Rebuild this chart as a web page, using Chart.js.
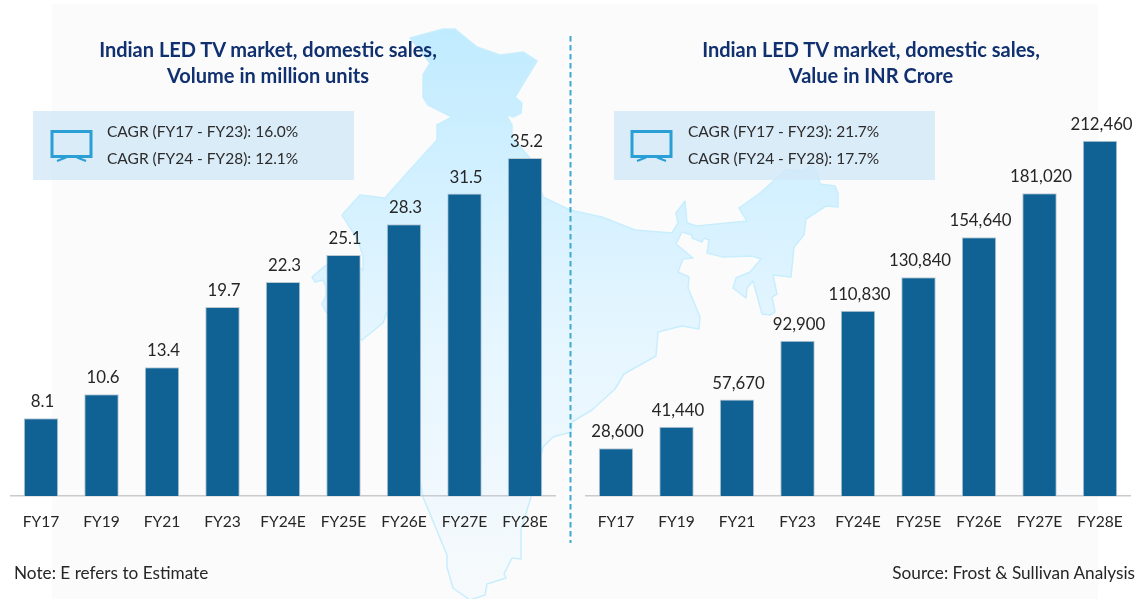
<!DOCTYPE html>
<html><head><meta charset="utf-8">
<script src="https://cdn.jsdelivr.net/npm/chart.js@4"></script>
<style>
html,body{margin:0;padding:0;background:#fff;overflow:hidden}
#stage{position:relative;width:1136px;height:599px;font-family:Lato,sans-serif;color:#262626;overflow:hidden;filter:blur(.3px)}
#panel{position:absolute;left:52px;top:4px;width:1046px;height:595px;background:#fbfbfc}
#map,#fg{position:absolute;left:0;top:0}
canvas{position:absolute;top:0}
.title{position:absolute;top:36px;text-align:center;font-weight:700;font-size:20px;line-height:26px;color:#10306f;white-space:nowrap}
.box{position:absolute;top:111px;width:321px;height:69px;background:rgba(210,232,247,.78)}
.cagr{position:absolute;font-size:15.5px;line-height:27px;top:118px;white-space:nowrap;color:#2b2b2b}
.note{position:absolute;top:563px;font-size:17.2px;line-height:20px;white-space:nowrap;color:#262626}
</style></head>
<body><div id="stage">
<div id="panel"></div>
<svg id="map" width="1136" height="599" viewBox="0 0 1136 599">
<defs><linearGradient id="g" gradientUnits="userSpaceOnUse" x1="0" y1="28" x2="0" y2="600">
<stop offset="0" stop-color="#c0ebff"/><stop offset=".55" stop-color="#e6f6ff"/><stop offset="1" stop-color="#f7fafc"/></linearGradient></defs>
<polygon fill="url(#g)" stroke="#c8eefd" stroke-width="1.5" stroke-linejoin="round" points="410,38 443,29 455,29 477,47 500,55 523,52 537,61 515,97 522,103 521,113 513,117 506,114 512,125 512,137 530,158 543,197 570,210 602,217 635,230 672,233 678,223 676,213 685,201 687,223 697,226 747,221 739,208 760,193 786,170 803,171 812,165 818,173 820,184 835,186 838,193 838,207 826,206 806,219 804,235 794,247 791,277 773,275 777,294 772,297 775,312 770,315 762,314 753,281 747,288 746,298 733,288 736,278 750,272 761,259 752,256 723,257 707,253 709,240 704,238 702,242 692,238 692,235 682,232 676,244 693,258 683,259 678,272 689,277 688,288 700,317 699,329 682,326 658,332 656,356 624,374 615,389 592,410 572,422 571,432 553,437 543,447 531,497 521,530 521,559 512,558 504,574 506,578 487,584 485,595 470,600 453,588 447,567 447,555 423,497 387,312 383,323 362,340 326,312 322,304 326,296 326,287 323,280 315,282 312,277 325,266 345,258 363,270 363,257 358,240 342,215 360,195 385,198 408,172 437,140 437,125 452,117 428,105 423,97 423,75 430,63"/>
</svg>
<div class="box" style="left:33px"></div>
<div class="box" style="left:614px"></div>
<canvas id="c1" width="568" height="599" style="left:0"></canvas>
<canvas id="c2" width="580" height="599" style="left:570px"></canvas>
<svg id="fg" width="1136" height="599" viewBox="0 0 1136 599">
<line x1="570.5" y1="36" x2="570.5" y2="543" stroke="#3ea9cf" stroke-width="2" stroke-dasharray="5.5 3.5"/>
<g fill="none" stroke="#2a9fd6">
<rect x="52" y="131.5" width="39" height="25" stroke-width="3"/>
<path d="M57 161 L66 157.5 M86 161 L77 157.5" stroke-width="2"/>
<rect x="632" y="131.5" width="39" height="25" stroke-width="3"/>
<path d="M637 161 L646 157.5 M666 161 L657 157.5" stroke-width="2"/>
</g></svg>
<div class="title" style="left:68px;width:400px">Indian LED TV market, domestic sales,<br>Volume in million units</div>
<div class="title" style="left:671px;width:400px">Indian LED TV market, domestic sales,<br>Value in INR Crore</div>
<div class="cagr" style="left:107px">CAGR (FY17 - FY23): 16.0%<br>CAGR (FY24 - FY28): 12.1%</div>
<div class="cagr" style="left:688px">CAGR (FY17 - FY23): 21.7%<br>CAGR (FY24 - FY28): 17.7%</div>
<div class="note" style="left:14px">Note: E refers to Estimate</div>
<div class="note" style="right:1px">Source: Frost &amp; Sullivan Analysis</div>
</div>
<script>
const categories = ["FY17","FY19","FY21","FY23","FY24E","FY25E","FY26E","FY27E","FY28E"];
const volumeMillionUnits = [8.1,10.6,13.4,19.7,22.3,25.1,28.3,31.5,35.2];
const valueInrCrore = [28600,41440,57670,92900,110830,130840,154640,181020,212460];

const barLabels = {
  id:'barLabels',
  afterDatasetsDraw(chart,args,opts){
    const ctx = chart.ctx, ds = chart.data.datasets[0];
    ctx.save();
    ctx.font = '16.8px Lato, sans-serif';
    ctx.fillStyle = '#262626';
    ctx.textAlign = 'center';
    ctx.textBaseline = 'alphabetic';
    chart.getDatasetMeta(0).data.forEach((bar,i)=>{
      ctx.fillText(opts.format(ds.data[i]), bar.x+1.5, bar.y-11);
    });
    ctx.restore();
  }
};

function build(id, values, yMax, format, padLeft, padRight){
  return new Chart(document.getElementById(id), {
    type:'bar',
    data:{labels:categories, datasets:[{data:values, backgroundColor:'#116294', borderColor:'#bcc9d2', borderWidth:1, borderSkipped:'bottom', barPercentage:0.57, categoryPercentage:1}]},
    options:{
      responsive:false, animation:false,
      layout:{padding:{left:padLeft,right:padRight,top:16,bottom:0}},
      plugins:{legend:{display:false},tooltip:{enabled:false},barLabels:{format}},
      scales:{
        x:{grid:{display:false,drawTicks:false},border:{color:'#c9cccf',width:1.5},
           ticks:{color:'#262626',font:{family:'Lato, sans-serif',size:15.6},padding:17,maxRotation:0,autoSkip:false},
           afterFit(s){s.height=103;}},
        y:{display:false,min:0,max:yMax}
      }
    },
    plugins:[barLabels]
  });
}
build('c1', volumeMillionUnits, 50, v=>v.toFixed(1), 10.75, 12.75);
build('c2', valueInrCrore, 287000, v=>v.toLocaleString('en-US'), 15.75, 19.75);
</script>
</body></html>
